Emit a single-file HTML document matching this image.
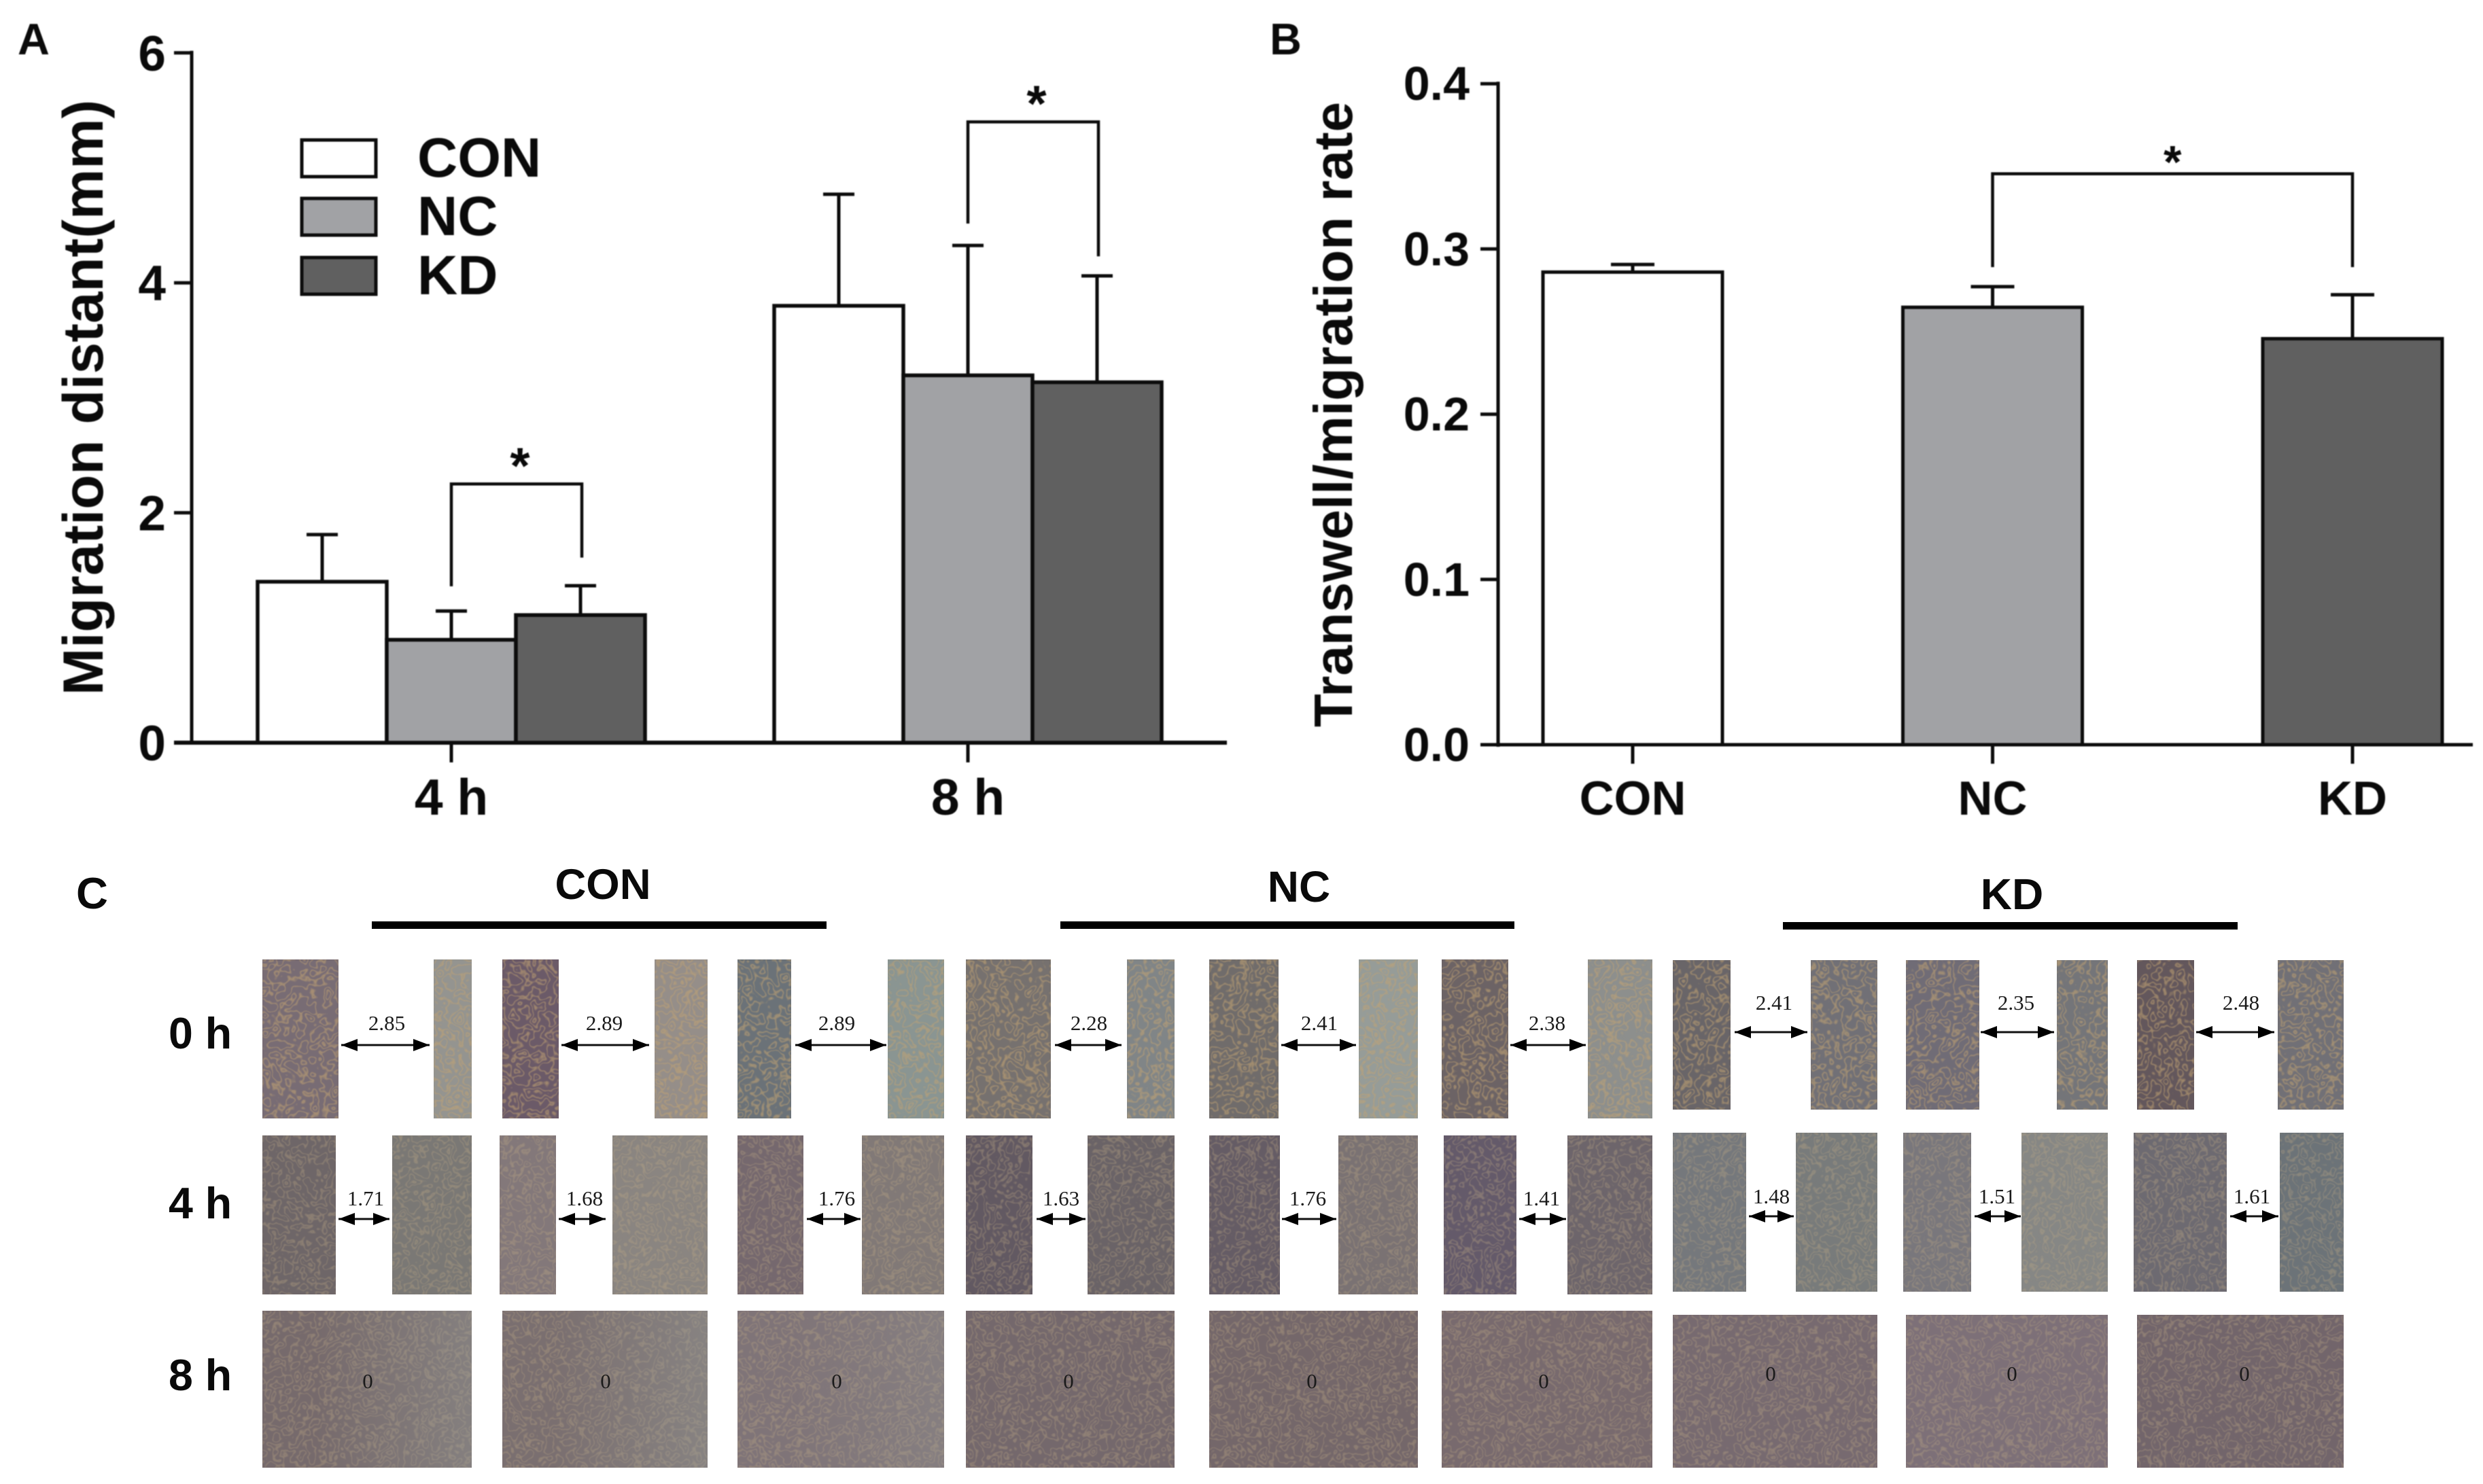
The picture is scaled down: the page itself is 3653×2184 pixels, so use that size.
<!DOCTYPE html>
<html lang="en">
<head>
<meta charset="utf-8">
<title>Migration assay figure</title>
<style>
html,body{margin:0;padding:0;background:#fff;width:3653px;height:2184px;overflow:hidden}
svg{display:block}
#panel-a,#panel-b{filter:blur(0.9px)}
text{font-family:"Liberation Sans",Arial,sans-serif;font-weight:700;fill:#0a0a0a}
.m{font-family:"Liberation Serif","Times New Roman",serif;font-weight:400;font-size:31px;text-anchor:middle;fill:#1a1a1a}
.a{stroke:#111;stroke-width:3;marker-start:url(#arrow-head);marker-end:url(#arrow-head)}
.i{filter:url(#cells)}
.j{filter:url(#cells-soft)}
</style>
</head>
<body>
<svg id="fig" xmlns="http://www.w3.org/2000/svg" width="3653" height="2184" viewBox="0 0 3653 2184">
<defs>
<marker id="arrow-head" markerUnits="userSpaceOnUse" markerWidth="25" markerHeight="20" refX="24" refY="10" orient="auto-start-reverse"><path d="M0 1L24 10L0 19z" fill="#000"/></marker>
<linearGradient id="grey-right" x1="0" y1="0" x2="1" y2="0"><stop offset="0.25" stop-color="#9aa09c" stop-opacity="0"/><stop offset="1" stop-color="#9aa09c" stop-opacity="0.4"/></linearGradient>
<filter id="cells" x="0" y="0" width="100%" height="100%" color-interpolation-filters="sRGB">
<feTurbulence type="fractalNoise" baseFrequency="0.055" numOctaves="2" seed="4" result="n"/>
<feColorMatrix in="n" type="matrix" values="0 0 0 0 0.76 0 0 0 0 0.64 0 0 0 0 0.45 1 0 0 0 0" result="a"/>
<feComponentTransfer in="a" result="b"><feFuncA type="table" tableValues="0 0 0 0 0 0 0 0 .65 0 0 0 .65 0 0 .65 0 0 0 0"/></feComponentTransfer>
<feGaussianBlur in="b" stdDeviation="0.7" result="s"/>
<feComposite in="s" in2="SourceAlpha" operator="in" result="c"/>
<feMerge><feMergeNode in="SourceGraphic"/><feMergeNode in="c"/></feMerge>
</filter>
<filter id="cells-soft" x="0" y="0" width="100%" height="100%" color-interpolation-filters="sRGB">
<feTurbulence type="fractalNoise" baseFrequency="0.06" numOctaves="2" seed="9" result="n"/>
<feColorMatrix in="n" type="matrix" values="0 0 0 0 0.74 0 0 0 0 0.66 0 0 0 0 0.52 1 0 0 0 0" result="a"/>
<feComponentTransfer in="a" result="b"><feFuncA type="table" tableValues="0 0 0 0 0 0 0 0 .42 0 0 0 .42 0 0 .42 0 0 0 0"/></feComponentTransfer>
<feGaussianBlur in="b" stdDeviation="0.7" result="s"/>
<feComposite in="s" in2="SourceAlpha" operator="in" result="c"/>
<feMerge><feMergeNode in="SourceGraphic"/><feMergeNode in="c"/></feMerge>
</filter>
</defs>

<g id="panel-a"></g>
<g id="panel-b"></g>

<g>
<text x="112" y="1337" font-size="65">C</text>
<text x="887" y="1323" font-size="63.5" text-anchor="middle">CON</text>
<rect x="547" y="1356" width="669" height="11" fill="#000"/>
<text x="1911" y="1327" font-size="64" text-anchor="middle">NC</text>
<rect x="1560" y="1356" width="668" height="11" fill="#000"/>
<text x="2960" y="1338" font-size="64" text-anchor="middle">KD</text>
<rect x="2623" y="1357" width="669" height="11" fill="#000"/>
<text x="248" y="1543" font-size="64.5">0 h</text>
<text x="248" y="1793" font-size="64.5">4 h</text>
<text x="248" y="2046" font-size="64.5">8 h</text>

<rect class="i" x="386" y="1412" width="112" height="234" fill="#786c74"/>
<rect class="i" x="638" y="1412" width="56" height="234" fill="#949490"/>
<rect class="i" x="739" y="1412" width="83" height="234" fill="#6b5a68"/>
<rect class="i" x="963" y="1412" width="78" height="234" fill="#958e89"/>
<rect class="i" x="1085" y="1412" width="79" height="234" fill="#6b7278"/>
<rect class="i" x="1306" y="1412" width="83" height="234" fill="#8a9592"/>
<rect class="i" x="1421" y="1412" width="125" height="234" fill="#76716f"/>
<rect class="i" x="1658" y="1412" width="70" height="234" fill="#808587"/>
<rect class="i" x="1779" y="1412" width="102" height="234" fill="#706c6b"/>
<rect class="i" x="1999" y="1412" width="87" height="234" fill="#969c98"/>
<rect class="i" x="2121" y="1412" width="98" height="234" fill="#6c6365"/>
<rect class="i" x="2336" y="1412" width="95" height="234" fill="#8d8f8d"/>
<rect class="i" x="2461" y="1413" width="85" height="220" fill="#696568"/>
<rect class="i" x="2664" y="1413" width="98" height="220" fill="#717076"/>
<rect class="i" x="2804" y="1413" width="108" height="220" fill="#706c76"/>
<rect class="i" x="3026" y="1413" width="75" height="220" fill="#747579"/>
<rect class="i" x="3144" y="1413" width="84" height="220" fill="#63575c"/>
<rect class="i" x="3351" y="1413" width="97" height="220" fill="#717076"/>

<rect class="j" x="386" y="1671" width="108" height="234" fill="#6e6668"/>
<rect class="j" x="577" y="1671" width="117" height="234" fill="#7a7875"/>
<rect class="j" x="735" y="1671" width="83" height="234" fill="#83787a"/>
<rect class="j" x="901" y="1671" width="140" height="234" fill="#8a8581"/>
<rect class="j" x="1085" y="1671" width="97" height="234" fill="#75686e"/>
<rect class="j" x="1268" y="1671" width="121" height="234" fill="#817977"/>
<rect class="j" x="1421" y="1671" width="98" height="234" fill="#625962"/>
<rect class="j" x="1600" y="1671" width="128" height="234" fill="#6a6367"/>
<rect class="j" x="1779" y="1671" width="104" height="234" fill="#655c65"/>
<rect class="j" x="1969" y="1671" width="117" height="234" fill="#7a7273"/>
<rect class="j" x="2124" y="1671" width="107" height="234" fill="#645a6a"/>
<rect class="j" x="2306" y="1671" width="125" height="234" fill="#6d656b"/>
<rect class="j" x="2461" y="1667" width="108" height="234" fill="#75787c"/>
<rect class="j" x="2642" y="1667" width="120" height="234" fill="#787b7b"/>
<rect class="j" x="2800" y="1667" width="100" height="234" fill="#79777c"/>
<rect class="j" x="2974" y="1667" width="127" height="234" fill="#868785"/>
<rect class="j" x="3139" y="1667" width="137" height="234" fill="#6d6a71"/>
<rect class="j" x="3354" y="1667" width="94" height="234" fill="#6c7378"/>

<rect class="j" x="386" y="1929" width="308" height="231" fill="#766a6c"/>
<rect class="j" x="739" y="1929" width="302" height="231" fill="#7a6f70"/>
<rect class="j" x="1085" y="1929" width="304" height="231" fill="#7f7478"/>
<rect class="j" x="1421" y="1929" width="307" height="231" fill="#74686c"/>
<rect class="j" x="1779" y="1929" width="307" height="231" fill="#74676a"/>
<rect class="j" x="2121" y="1929" width="310" height="231" fill="#786a6e"/>
<rect class="j" x="2461" y="1935" width="301" height="225" fill="#776a70"/>
<rect class="j" x="2804" y="1935" width="297" height="225" fill="#7d7078"/>
<rect class="j" x="3144" y="1935" width="304" height="225" fill="#72656b"/>

<rect x="386" y="1929" width="308" height="231" fill="url(#grey-right)"/>
<rect x="739" y="1929" width="302" height="231" fill="url(#grey-right)"/>
<rect x="1085" y="1929" width="304" height="231" fill="url(#grey-right)" opacity="0.6"/>

<line class="a" x1="502" y1="1538" x2="632" y2="1538"/>
<line class="a" x1="826" y1="1538" x2="955" y2="1538"/>
<line class="a" x1="1170" y1="1538" x2="1304" y2="1538"/>
<line class="a" x1="1552" y1="1538" x2="1650" y2="1538"/>
<line class="a" x1="1885" y1="1538" x2="1995" y2="1538"/>
<line class="a" x1="2222" y1="1538" x2="2333" y2="1538"/>
<line class="a" x1="2552" y1="1519" x2="2659" y2="1519"/>
<line class="a" x1="2914" y1="1519" x2="3022" y2="1519"/>
<line class="a" x1="3231" y1="1519" x2="3346" y2="1519"/>
<line class="a" x1="498" y1="1794" x2="573" y2="1794"/>
<line class="a" x1="822" y1="1794" x2="891" y2="1794"/>
<line class="a" x1="1187" y1="1794" x2="1266" y2="1794"/>
<line class="a" x1="1525" y1="1794" x2="1597" y2="1794"/>
<line class="a" x1="1886" y1="1794" x2="1966" y2="1794"/>
<line class="a" x1="2235" y1="1794" x2="2304" y2="1794"/>
<line class="a" x1="2573" y1="1790" x2="2639" y2="1790"/>
<line class="a" x1="2905" y1="1790" x2="2973" y2="1790"/>
<line class="a" x1="3281" y1="1790" x2="3352" y2="1790"/>

<text class="m" x="569" y="1516">2.85</text>
<text class="m" x="889" y="1516">2.89</text>
<text class="m" x="1231" y="1516">2.89</text>
<text class="m" x="1602" y="1516">2.28</text>
<text class="m" x="1941" y="1516">2.41</text>
<text class="m" x="2276" y="1516">2.38</text>
<text class="m" x="2610" y="1486">2.41</text>
<text class="m" x="2966" y="1486">2.35</text>
<text class="m" x="3297" y="1486">2.48</text>
<text class="m" x="538" y="1774">1.71</text>
<text class="m" x="860" y="1774">1.68</text>
<text class="m" x="1231" y="1774">1.76</text>
<text class="m" x="1561" y="1774">1.63</text>
<text class="m" x="1924" y="1774">1.76</text>
<text class="m" x="2268" y="1774">1.41</text>
<text class="m" x="2606" y="1771">1.48</text>
<text class="m" x="2938" y="1771">1.51</text>
<text class="m" x="3313" y="1771">1.61</text>
<text class="m" x="541" y="2043">0</text>
<text class="m" x="891" y="2043">0</text>
<text class="m" x="1231" y="2043">0</text>
<text class="m" x="1572" y="2043">0</text>
<text class="m" x="1930" y="2043">0</text>
<text class="m" x="2271" y="2043">0</text>
<text class="m" x="2605" y="2032">0</text>
<text class="m" x="2960" y="2032">0</text>
<text class="m" x="3302" y="2032">0</text>
</g>
</svg>

<script>
/* Panel A data */
const timepointsA = ['4 h', '8 h'];
const seriesNamesA = ['CON', 'NC', 'KD'];
const conMeansA = [1.40, 3.80];
const ncMeansA = [0.895, 3.195];
const kdMeansA = [1.11, 3.135];
const conErrorsA = [0.41, 0.97];
const ncErrorsA = [0.25, 1.13];
const kdErrorsA = [0.255, 0.925];
const yTicksA = [0, 2, 4, 6];
const bracketTopsA = [2.25, 5.40];
const bracketLeftEndsA = [1.36, 4.515];
const bracketRightEndsA = [1.61, 4.23];

/* Panel B data */
const categoriesB = ['CON', 'NC', 'KD'];
const meansB = [0.286, 0.2647, 0.2457];
const errorsB = [0.0046, 0.0125, 0.0266];
const yTicksB = ['0.0', '0.1', '0.2', '0.3', '0.4'];
const bracketTopB = [0.3455];
const bracketEndB = [0.289];

const NS = 'http://www.w3.org/2000/svg';
const INK = '#0c0c0c';
const FILLS = { CON: '#ffffff', NC: '#a1a2a5', KD: '#606060' };

function make(tag, attrs, parent, label) {
  const el = document.createElementNS(NS, tag);
  for (const k in attrs) el.setAttribute(k, attrs[k]);
  
  
  parent.appendChild(el);
  return el;
}
function line(x1, y1, x2, y2, w, parent, label) {
  return make('line', { x1, y1, x2, y2, stroke: INK, 'stroke-width': w }, parent, label);
}
function text(str, x, y, size, anchor, parent, label, extra) {
  const el = make('text', Object.assign({ x, y, 'font-size': size, 'text-anchor': anchor }, extra || {}), parent, label);
  el.textContent = str;
  return el;
}
function bracket(xL, xR, yTop, yL, yR, w, parent, label) {
  make('path', { d: 'M' + xL + ' ' + yL + 'V' + yTop + 'H' + xR + 'V' + yR, fill: 'none', stroke: INK, 'stroke-width': w }, parent, label);
}

/* ---------- Panel A ---------- */
const gA = document.getElementById('panel-a');
const yA = v => 1093 - v * 169.2;
const barWidthA = 190;
const groupCenterA = i => 664 + i * 760;
const barLeftA = (g, s) => groupCenterA(g) - 1.5 * barWidthA + s * barWidthA;
const meansByA = [conMeansA, ncMeansA, kdMeansA];
const errorsByA = [conErrorsA, ncErrorsA, kdErrorsA];

text('A', 26, 80, 65, 'start', gA, 'panel-a-label');
line(282, yA(6) - 3, 282, yA(0) + 3, 5, gA, 'y-axis-line-a');
line(256, yA(0), 1805, yA(0), 6, gA, 'x-axis-line-a');
yTicksA.forEach(t => {
  line(256, yA(t), 282, yA(t), 5, gA, 'y-tick-a');
  text(String(t), 244, yA(t) + 26, 73, 'end', gA, 'y-tick-label-a');
});
make('text', { transform: 'translate(151 585) rotate(-90)', 'font-size': 83.5, 'text-anchor': 'middle' }, gA, 'y-axis-title-a').textContent = 'Migration distant(mm)';

timepointsA.forEach((name, g) => {
  line(groupCenterA(g), yA(0), groupCenterA(g), 1122, 5, gA, 'x-tick-a');
  text(name, groupCenterA(g), 1199, 75, 'middle', gA, 'x-tick-label-a');
  seriesNamesA.forEach((s, i) => {
    const cx = barLeftA(g, i) + barWidthA / 2;
    const top = yA(meansByA[i][g]);
    const errTop = yA(meansByA[i][g] + errorsByA[i][g]);
    line(cx, top, cx, errTop, 5, gA, 'error-bar-' + s.toLowerCase());
    line(cx - 23, errTop, cx + 23, errTop, 5, gA, 'error-cap-' + s.toLowerCase());
    make('rect', { x: barLeftA(g, i), y: top, width: barWidthA, height: yA(0) - top, fill: FILLS[s], stroke: INK, 'stroke-width': 5.5 }, gA, 'bar-' + s.toLowerCase() + '-' + name.replace(' ', ''));
  });
  const xL = barLeftA(g, 1) + barWidthA / 2;
  const xR = barLeftA(g, 2) + barWidthA / 2 + 2;
  bracket(xL, xR, yA(bracketTopsA[g]), yA(bracketLeftEndsA[g]), yA(bracketRightEndsA[g]), 4.5, gA, 'significance-bracket-a');
  text('*', (xL + xR) / 2 + 5, yA(bracketTopsA[g]) - 1, 75, 'middle', gA, 'significance-star-a');
});

const legendBoxTops = [206, 292, 379];
seriesNamesA.forEach((s, i) => {
  make('rect', { x: 444, y: legendBoxTops[i], width: 109, height: 54, fill: FILLS[s], stroke: INK, 'stroke-width': 5 }, gA, 'legend-swatch-' + s.toLowerCase());
  text(s, 614, legendBoxTops[i] + 54, 82, 'start', gA, 'legend-label-' + s.toLowerCase());
});

/* ---------- Panel B ---------- */
const gB = document.getElementById('panel-b');
const yB = v => 1096 - v * 2432;
const xB = i => 2402 + i * 529.5;
const barWidthB = 264;

text('B', 1868, 80, 65, 'start', gB, 'panel-b-label');
line(2204, yB(0.4) - 3, 2204, yB(0) + 3, 5, gB, 'y-axis-line-b');
line(2178, yB(0), 3638, yB(0), 5, gB, 'x-axis-line-b');
yTicksB.forEach(t => {
  line(2178, yB(+t), 2204, yB(+t), 5, gB, 'y-tick-b');
  text(t, 2162, yB(+t) + 24, 70, 'end', gB, 'y-tick-label-b');
});
make('text', { transform: 'translate(1989 610) rotate(-90)', 'font-size': 80, 'text-anchor': 'middle' }, gB, 'y-axis-title-b').textContent = 'Transwell/migration rate';

categoriesB.forEach((c, i) => {
  const cx = xB(i);
  const top = yB(meansB[i]);
  const errTop = yB(meansB[i] + errorsB[i]);
  line(cx, yB(0), cx, 1124, 5, gB, 'x-tick-b');
  text(c, cx, 1199, 70.6, 'middle', gB, 'x-tick-label-' + c.toLowerCase());
  line(cx, top, cx, errTop, 5, gB, 'error-bar-' + c.toLowerCase());
  line(cx - 32, errTop, cx + 32, errTop, 5, gB, 'error-cap-' + c.toLowerCase());
  make('rect', { x: cx - barWidthB / 2, y: top, width: barWidthB, height: yB(0) - top, fill: FILLS[c], stroke: INK, 'stroke-width': 5 }, gB, 'bar-' + c.toLowerCase());
});
bracket(xB(1), xB(2), yB(bracketTopB[0]), yB(bracketEndB[0]), yB(bracketEndB[0]), 4.5, gB, 'significance-bracket-b');
text('*', (xB(1) + xB(2)) / 2, yB(bracketTopB[0]) + 6, 68, 'middle', gB, 'significance-star-b');
</script>
</body>
</html>
